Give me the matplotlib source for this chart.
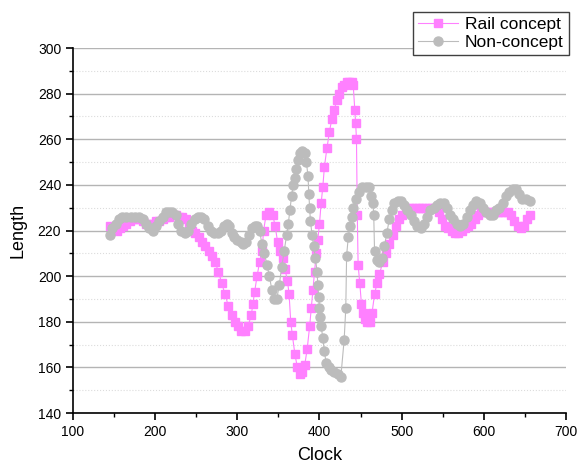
# -*- coding: utf-8 -*-
"""
Rail concept vs non-concept, Length over Clock
"""

import matplotlib
matplotlib.use('Agg')
import matplotlib.pyplot as plt
from matplotlib.ticker import MultipleLocator

plt.rcParams['font.family'] = ['Liberation Sans', 'DejaVu Sans']

# Rail concept
rail_x = [145, 149, 153, 157, 161, 165, 169, 173, 177, 181, 185, 189, 193, 197,
          201, 205, 209, 213, 217, 221, 225, 229, 233, 237, 241, 245, 249, 253,
          257, 261, 265, 269, 273, 277, 281, 285, 289, 293, 297, 301, 305, 309,
          313, 317, 319, 321, 324, 327, 330, 332, 335, 339, 343, 346, 349, 352,
          355, 358, 361, 363, 365, 367, 370, 373, 376, 379, 382, 385, 388, 390,
          392, 394, 396, 398, 400, 402, 404, 406, 409, 412, 415, 418, 421, 424,
          427, 430, 433, 436, 439, 441, 443, 444, 445, 446, 447, 449, 451, 453,
          455, 458, 461, 464, 467, 470, 473, 477, 481, 485, 489, 493, 497, 501,
          505, 509, 513, 517, 521, 525, 529, 533, 537, 541, 545, 549, 553, 557,
          561, 565, 569, 573, 577, 581, 585, 589, 593, 597, 601, 605, 609, 613,
          617, 621, 625, 629, 633, 637, 641, 645, 649, 653, 656]
rail_y = [222, 221, 220, 221, 222, 223, 224, 225, 225, 225, 224, 223, 223, 223,
          224, 224, 225, 226, 226, 227, 227, 226, 226, 225, 222, 220, 219, 217,
          215, 213, 211, 209, 206, 202, 197, 192, 187, 183, 180, 178, 176, 176,
          178, 183, 188, 193, 200, 206, 211, 220, 227, 228, 227, 222, 215, 211,
          208, 203, 198, 192, 180, 174, 166, 160, 157, 158, 161, 168, 178, 186,
          194, 202, 210, 216, 223, 232, 239, 248, 256, 263, 269, 273, 277, 280,
          283, 284, 285, 285, 285, 284, 273, 267, 260, 227, 205, 197, 188, 184,
          181, 180, 180, 184, 192, 197, 201, 206, 210, 214, 218, 222, 225, 227,
          229, 230, 230, 230, 230, 230, 230, 230, 230, 230, 228, 225, 222, 221,
          220, 219, 219, 220, 221, 222, 223, 225, 227, 228, 228, 228, 228, 228,
          228, 228, 228, 228, 227, 224, 222, 221, 222, 225, 227]

# Non-concept
non_x = [145, 148, 152, 156, 160, 165, 170, 175, 180, 185, 189, 193, 197, 201,
         205, 209, 213, 217, 221, 225, 228, 232, 236, 240, 244, 248, 252, 256,
         260, 264, 268, 272, 276, 280, 284, 287, 290, 293, 296, 300, 304, 307,
         310, 314, 318, 321, 324, 327, 330, 333, 336, 339, 342, 345, 348, 351,
         354, 357, 360, 362, 364, 366, 368, 370, 372, 374, 376, 379, 382, 384,
         386, 387, 388, 389, 391, 393, 395, 397, 398, 399, 400, 401, 402, 404,
         406, 408, 411, 414, 418, 422, 426, 430, 432, 433, 435, 437, 439, 441,
         444, 448, 452, 456, 460, 463, 465, 466, 467, 470, 473, 476, 479, 482,
         485, 488, 491, 495, 499, 503, 507, 511, 515, 519, 523, 527, 531, 535,
         539, 543, 547, 551, 555, 559, 563, 567, 571, 575, 579, 583, 587, 591,
         595, 599, 603, 607, 611, 615, 619, 623, 627, 631, 635, 639, 643, 647,
         651, 656]
non_y = [218, 221, 223, 225, 226, 226, 226, 226, 226, 225, 223, 221, 220, 222,
         224, 226, 228, 228, 228, 227, 223, 220, 219, 220, 223, 225, 226, 226,
         225, 222, 220, 219, 219, 220, 222, 223, 222, 219, 217, 216, 215, 214,
         215, 218, 221, 222, 222, 220, 214, 210, 205, 200, 194, 190, 190, 196,
         204, 211, 218, 223, 229, 235, 240, 243, 247, 251, 254, 255, 254, 250,
         244, 236, 230, 224, 218, 213, 208, 202, 196, 191, 186, 182, 178, 173,
         167, 162, 160, 159, 158, 157, 156, 172, 186, 209, 217, 222, 226, 230,
         234, 237, 239, 239, 239, 235, 232, 227, 211, 207, 206, 208, 213, 219,
         225, 229, 232, 233, 233, 231, 229, 227, 224, 222, 221, 223, 226, 229,
         230, 231, 232, 232, 230, 227, 225, 223, 222, 223, 226, 229, 231, 233,
         232, 230, 228, 227, 227, 229, 230, 232, 235, 237, 238, 238, 236, 234,
         234, 233]

PINK = '#ff80ff'
GREY = '#bcbcbc'


def plotLengths():
    fig = plt.figure(figsize=(5.85, 4.68), dpi=100)
    ax = fig.add_axes([0.1248, 0.1175, 0.8427, 0.7799])

    ax.plot(rail_x, rail_y, color=PINK, lw=0.8, marker='s', ms=5.5,
            mec=PINK, mfc=PINK, label='Rail concept', zorder=3)
    ax.plot(non_x, non_y, color=GREY, lw=0.8, marker='o', ms=6.5,
            mec=GREY, mfc=GREY, label='Non-concept', zorder=4)

    ax.set_xlim(100, 700)
    ax.set_ylim(140, 300)
    ax.xaxis.set_major_locator(MultipleLocator(100))
    ax.xaxis.set_minor_locator(MultipleLocator(50))
    ax.yaxis.set_major_locator(MultipleLocator(20))
    ax.yaxis.set_minor_locator(MultipleLocator(10))

    ax.set_axisbelow(True)
    ax.grid(axis='y', which='major', color='#b4b4b4', lw=1.0, ls='-')
    ax.grid(axis='y', which='minor', color='#dcdcdc', lw=0.8, ls=':')

    for s in ['top', 'right']:
        ax.spines[s].set_visible(False)
    for s in ['left', 'bottom']:
        ax.spines[s].set_linewidth(1.2)
        ax.spines[s].set_color('black')

    ax.tick_params(which='major', direction='out', length=5, width=1.2,
                   labelsize=10, colors='black')
    ax.tick_params(which='minor', direction='out', length=3, width=1.0)

    ax.set_xlabel('Clock', fontsize=13, labelpad=6)
    ax.set_ylabel('Length', fontsize=13, labelpad=8)

    leg = ax.legend(loc='upper right', bbox_to_anchor=(0.9726, 0.9744),
                    bbox_transform=fig.transFigure, fontsize=12.5,
                    fancybox=False, framealpha=1, edgecolor='#404040',
                    borderpad=0.3, handlelength=2.3, handletextpad=0.4,
                    labelspacing=0.15, borderaxespad=0)
    leg.get_frame().set_linewidth(1.0)

    fig.savefig('out.png', dpi=100)


if __name__ == '__main__':
    plotLengths()
